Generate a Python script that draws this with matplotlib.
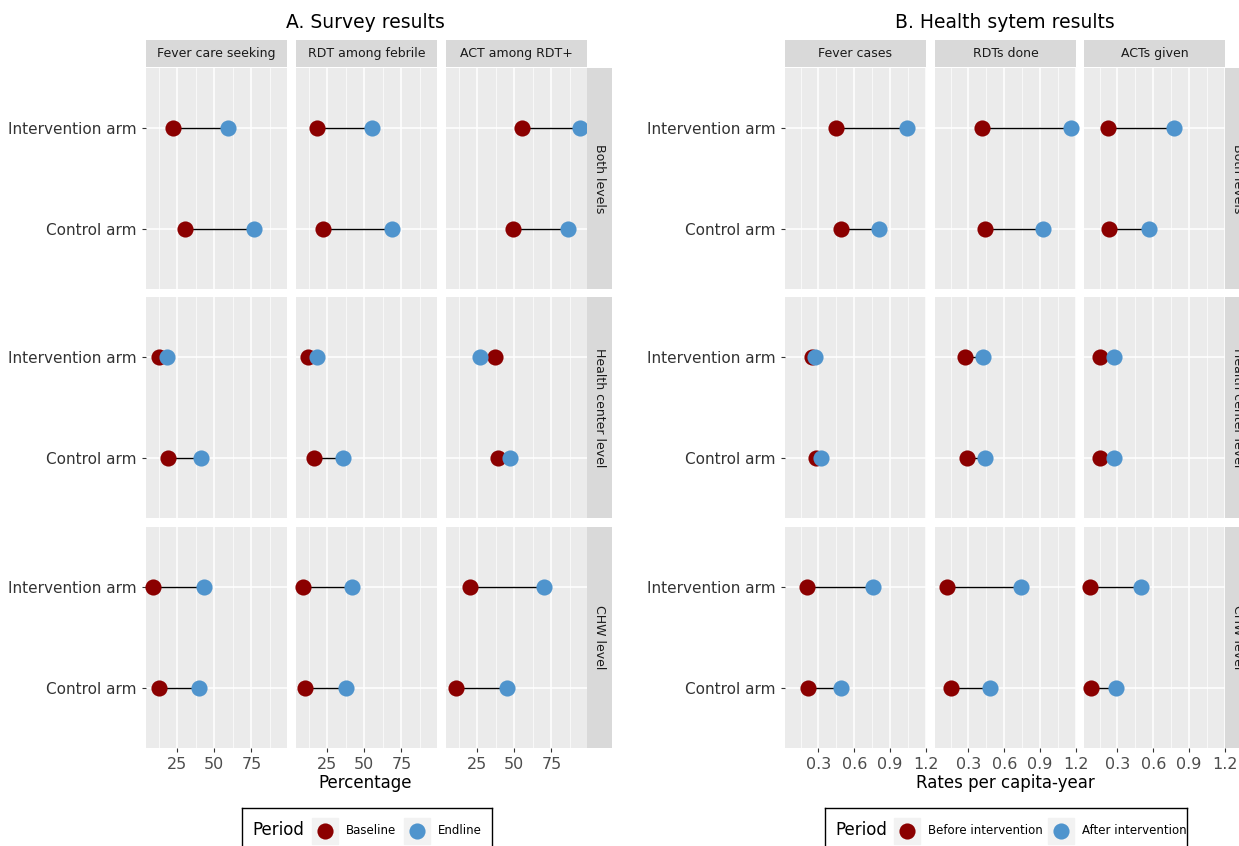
import matplotlib.pyplot as plt
import numpy as np

arms = ["Control arm", "Intervention arm"]
levels = ["Both levels", "Health center level", "CHW level"]
survey_ind = ["Fever care seeking", "RDT among febrile", "ACT among RDT+"]
health_ind = ["Fever cases", "RDTs done", "ACTs given"]

# [level][indicator] -> (intervention, control) baseline / endline
survey_base = [[(22, 30), (18, 22), (55, 49)],
               [(13, 19), (12, 16), (37, 39)],
               [(9, 13), (9, 10), (20, 11)]]
survey_end = [[(59, 77), (55, 69), (94, 86)],
              [(18, 41), (18, 36), (27, 47)],
              [(43, 40), (42, 38), (70, 45)]]
health_base = [[(0.45, 0.49), (0.41, 0.44), (0.22, 0.23)],
               [(0.25, 0.28), (0.27, 0.29), (0.15, 0.15)],
               [(0.20, 0.21), (0.12, 0.15), (0.07, 0.08)]]
health_end = [[(1.04, 0.81), (1.16, 0.92), (0.77, 0.56)],
              [(0.27, 0.32), (0.42, 0.44), (0.27, 0.27)],
              [(0.76, 0.49), (0.74, 0.48), (0.50, 0.29)]]

RED = "#8B0000"
BLUE = "#4F94CD"
W, H = 1239, 846
fig = plt.figure(figsize=(W/100, H/100), dpi=100)

def box(x, y, w, h):
    return [x/W, 1-(y+h)/H, w/W, h/H]

def group(x0s, base, end, inds, xlim, ticks, ticklabels, minor, xlabel, title, cx, leg):
    for r in range(3):
        y0 = [68, 297, 527][r]
        for c in range(3):
            ax = fig.add_axes(box(x0s[c], y0, 141, 221))
            ax.set_facecolor("#EBEBEB")
            for s in ax.spines.values():
                s.set_visible(False)
            ax.set_xlim(*xlim)
            ax.set_ylim(0.4, 2.6)
            ax.set_xticks(ticks)
            ax.set_xticks(minor, minor=True)
            ax.set_yticks([1, 2])
            ax.grid(True, which="major", color="white", lw=1.1)
            ax.grid(True, which="minor", axis="x", color="white", lw=0.5)
            ax.set_axisbelow(True)
            ax.tick_params(axis="both", length=3, color="#333333", labelsize=11.5, labelcolor="#4D4D4D")
            ax.tick_params(which="minor", length=0)
            if c == 0:
                ax.set_yticklabels(arms, fontsize=11, color="#333333")
            else:
                ax.set_yticklabels([])
                ax.tick_params(axis="y", length=0)
            if r == 2:
                ax.set_xticklabels(ticklabels)
            else:
                ax.set_xticklabels([])
                ax.tick_params(axis="x", length=0)
            b = base[r][c]; e = end[r][c]
            for yi, (bb, ee) in zip([2, 1], zip(b, e)):
                ax.plot([bb, ee], [yi, yi], color="black", lw=1, zorder=2)
            ax.scatter(b, [2, 1], s=135, color=RED, zorder=3, linewidths=0, clip_on=False)
            ax.scatter(e, [2, 1], s=135, color=BLUE, zorder=3, linewidths=0, clip_on=False)
            if r == 0:
                sa = fig.add_axes(box(x0s[c], 40, 141, 27))
                sa.set_facecolor("#D9D9D9"); sa.set_xticks([]); sa.set_yticks([])
                for s in sa.spines.values(): s.set_visible(False)
                sa.text(0.5, 0.5, inds[c], ha="center", va="center", fontsize=9, color="#1A1A1A", transform=sa.transAxes)
        sa = fig.add_axes(box(x0s[2] + 141, y0, 25, 221))
        sa.set_facecolor("#D9D9D9"); sa.set_xticks([]); sa.set_yticks([])
        for s in sa.spines.values(): s.set_visible(False)
        sa.text(0.5, 0.5, levels[r], ha="center", va="center", rotation=-90, fontsize=9, color="#1A1A1A", transform=sa.transAxes)
    fig.text(cx/W, 1-22/H, title, ha="center", va="center", fontsize=13.5)
    fig.text(cx/W, 1-783/H, xlabel, ha="center", va="center", fontsize=12)
    lx, lw_ = leg
    la = fig.add_axes(box(lx, 808, lw_, 40))
    la.set_xlim(0, lw_); la.set_ylim(40, 0)
    la.set_xticks([]); la.set_yticks([])
    for s in la.spines.values(): s.set_color("black"); s.set_linewidth(1)
    la.text(10, 22, "Period", fontsize=12, va="center")
    return la

la = group([146, 296, 446], survey_base, survey_end, survey_ind, (4, 99),
           [25, 50, 75], ["25", "50", "75"], [12.5, 37.5, 62.5, 87.5],
           "Percentage", "A. Survey results", 365, (242, 250))
for xx, col, lab in [(83, RED, "Baseline"), (175, BLUE, "Endline")]:
    la.add_patch(plt.Rectangle((xx-13, 10), 26, 26, color="#F2F2F2"))
    la.scatter([xx], [23], s=135, color=col, linewidths=0)
    la.text(xx+21, 23, lab, fontsize=8.5, va="center")
la = group([785, 935, 1084], health_base, health_end, health_ind, (0.02, 1.2),
           [0.3, 0.6, 0.9, 1.2], ["0.3", "0.6", "0.9", "1.2"], [0.15, 0.45, 0.75, 1.05],
           "Rates per capita-year", "B. Health sytem results", 1005, (825, 362))
for xx, col, lab in [(82, RED, "Before intervention"), (236, BLUE, "After intervention")]:
    la.add_patch(plt.Rectangle((xx-13, 10), 26, 26, color="#F2F2F2"))
    la.scatter([xx], [23], s=135, color=col, linewidths=0)
    la.text(xx+21, 23, lab, fontsize=8.5, va="center")
fig.savefig("out.png", dpi=100)
